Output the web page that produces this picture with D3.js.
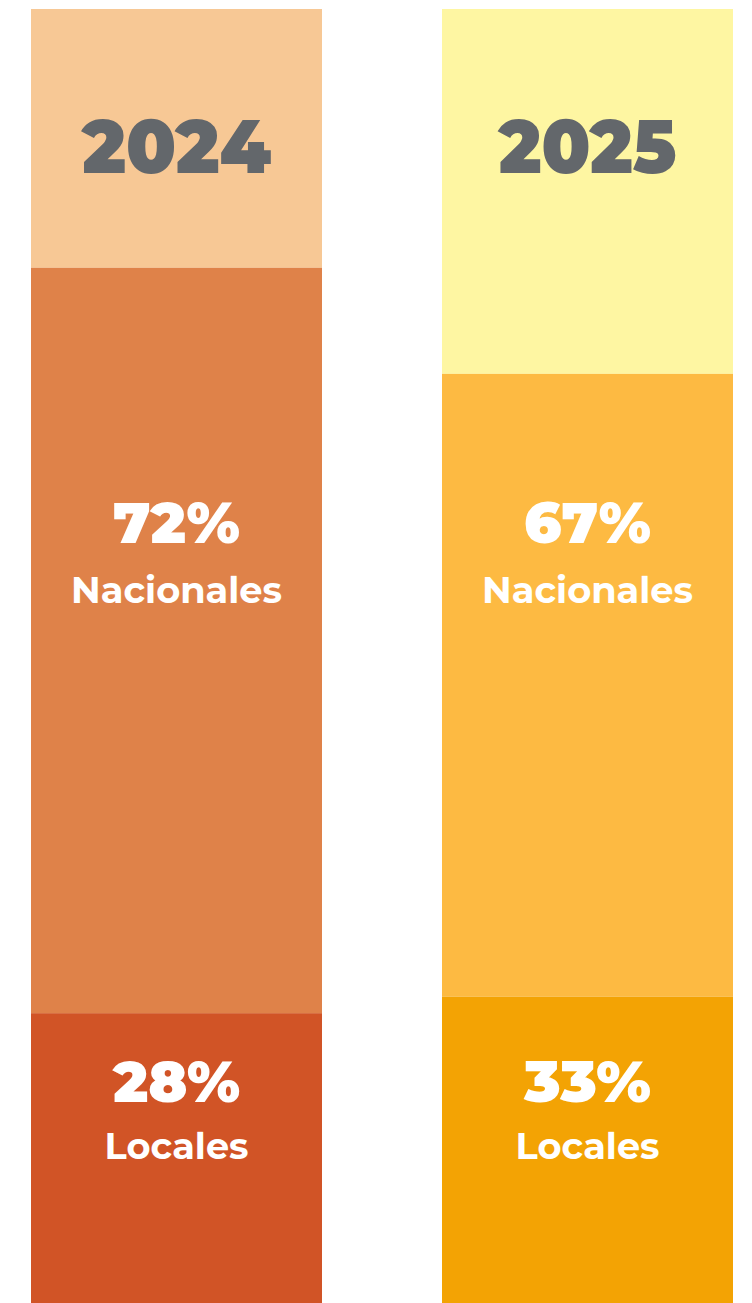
<!DOCTYPE html>
<html lang="es">
<head>
<meta charset="utf-8">
<script src="https://cdn.jsdelivr.net/npm/d3@7"></script>
<style>
  html, body { margin: 0; padding: 0; background: #ffffff; }
  svg { display: block; }
</style>
</head>
<body>
<div id="chart"></div>
<script>
// Years shown, one column each
const years = ["2024", "2025"];
// Share of media by origin (percent)
const nacionales = [72, 67];
const locales = [28, 33];
// Segment labels
const segmentNames = ["Nacionales", "Locales"];

// Palette per column: title band, national, local
const palette = [
  { head: "#F7C895", nac: "#DF8249", loc: "#D15426" },
  { head: "#FEF6A2", nac: "#FDBA42", loc: "#F3A304" }
];

const W = 752, H = 1303;
const colTop = 9, colBottom = H;
// Share of each column kept for the year title band
const headShare = [0.2, 0.282];

const svg = d3.select("#chart").append("svg")
  .attr("width", W).attr("height", H);

const x = d3.scaleBand()
  .domain(years)
  .range([31, 733])
  .paddingInner(120 / 411)
  .paddingOuter(0);

const fontHeavy = "Montserrat, Lato, 'DejaVu Sans', sans-serif";

const cols = svg.selectAll("g.col")
  .data(years.map((year, i) => ({
    year, i,
    nac: nacionales[i], loc: locales[i], colors: palette[i]
  })))
  .join("g")
  .attr("class", "col")
  .attr("transform", d => `translate(${x(d.year)},0)`);

const bw = x.bandwidth();

cols.each(function (d) {
  const g = d3.select(this);
  const stackTop = colTop + headShare[d.i] * (colBottom - colTop);
  // Percent scale for this column's stacked part
  const y = d3.scaleLinear().domain([0, 100]).range([colBottom, stackTop]);

  const stack = d3.stack().keys(["loc", "nac"])([{ loc: d.loc, nac: d.nac }]);

  // Title band
  g.append("rect")
    .attr("x", 0).attr("y", colTop)
    .attr("width", bw).attr("height", stackTop - colTop)
    .attr("fill", d.colors.head);

  // Stacked segments
  stack.forEach(layer => {
    const s = layer[0];
    g.append("rect")
      .attr("x", 0)
      .attr("y", y(s[1]))
      .attr("width", bw)
      .attr("height", y(s[0]) - y(s[1]))
      .attr("fill", d.colors[layer.key]);
  });

  const cx = bw / 2;

  g.append("text")
    .attr("x", cx).attr("y", 173)
    .attr("text-anchor", "middle")
    .attr("font-family", fontHeavy)
    .attr("font-weight", 900)
    .attr("font-size", 76)
    .attr("fill", "#63676B")
    .attr("textLength", d.i === 0 ? 189 : 178)
    .attr("lengthAdjust", "spacingAndGlyphs")
    .text(d.year);

  const blocks = [
    { value: d.nac, name: segmentNames[0], base: 543, sub: 603, subW: 211 },
    { value: d.loc, name: segmentNames[1], base: 1102, sub: 1159, subW: 144 }
  ];
  blocks.forEach(b => {
    g.append("text")
      .attr("x", cx).attr("y", b.base)
      .attr("text-anchor", "middle")
      .attr("font-family", fontHeavy)
      .attr("font-weight", 900)
      .attr("font-size", 58)
      .attr("fill", "#ffffff")
      .attr("textLength", 127)
      .attr("lengthAdjust", "spacingAndGlyphs")
      .text(b.value + "%");
    g.append("text")
      .attr("x", cx).attr("y", b.sub)
      .attr("text-anchor", "middle")
      .attr("font-family", fontHeavy)
      .attr("font-weight", 700)
      .attr("font-size", 36)
      .attr("fill", "#ffffff")
      .attr("textLength", b.subW)
      .attr("lengthAdjust", "spacingAndGlyphs")
      .text(b.name);
  });
});
</script>
</body>
</html>
